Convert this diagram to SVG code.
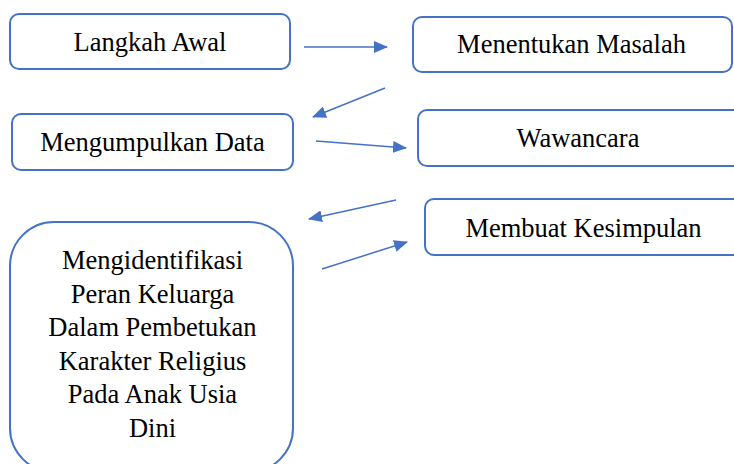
<svg xmlns="http://www.w3.org/2000/svg" width="734" height="464" viewBox="0 0 734 464">
<style>
.box{fill:#fff;stroke:#4472C4;stroke-width:2}
text{font-family:'Liberation Serif','Times New Roman',serif;font-size:26.5px;fill:#000;text-anchor:middle}
.c{stroke:#4472C4;stroke-width:1.5;fill:none;marker-end:url(#ah)}
</style>
<defs>
<marker id="ah" markerWidth="14" markerHeight="12" refX="13" refY="6" orient="auto" markerUnits="userSpaceOnUse">
<path d="M0,0 L14,6 L0,12 Z" fill="#4472C4"/>
</marker>
</defs>
<rect width="734" height="464" fill="#fff"/>
<g id="n1"><rect class="box" x="10" y="14" width="280" height="55" rx="9"/><text x="150" y="51">Langkah Awal</text></g>
<g id="n2"><rect class="box" x="413" y="17" width="319" height="55" rx="9"/><text x="571.5" y="53">Menentukan Masalah</text></g>
<g id="n3"><rect class="box" x="12" y="114" width="281" height="56" rx="9"/><text x="152.5" y="151">Mengumpulkan Data</text></g>
<g id="n4"><rect class="box" x="418" y="110" width="330" height="56" rx="9"/><text x="578" y="147">Wawancara</text></g>
<g id="n5"><rect class="box" x="425" y="199" width="330" height="56" rx="9"/><text x="583.5" y="237">Membuat Kesimpulan</text></g>
<g id="n6"><rect class="box" x="10" y="222" width="283" height="250" rx="44"/>
<text x="152.5" y="269">Mengidentifikasi</text>
<text x="152.5" y="302.5">Peran Keluarga</text>
<text x="152.5" y="336">Dalam Pembetukan</text>
<text x="152.5" y="369.5">Karakter Religius</text>
<text x="152.5" y="403">Pada Anak Usia</text>
<text x="152.5" y="436.5">Dini</text>
</g>
<g id="connectors">
<line class="c" x1="304" y1="47" x2="387" y2="47"/>
<line class="c" x1="385" y1="88" x2="313" y2="117"/>
<line class="c" x1="316" y1="141" x2="406" y2="148"/>
<line class="c" x1="396" y1="200" x2="309" y2="219"/>
<line class="c" x1="322" y1="269" x2="407" y2="242"/>
</g>
</svg>
